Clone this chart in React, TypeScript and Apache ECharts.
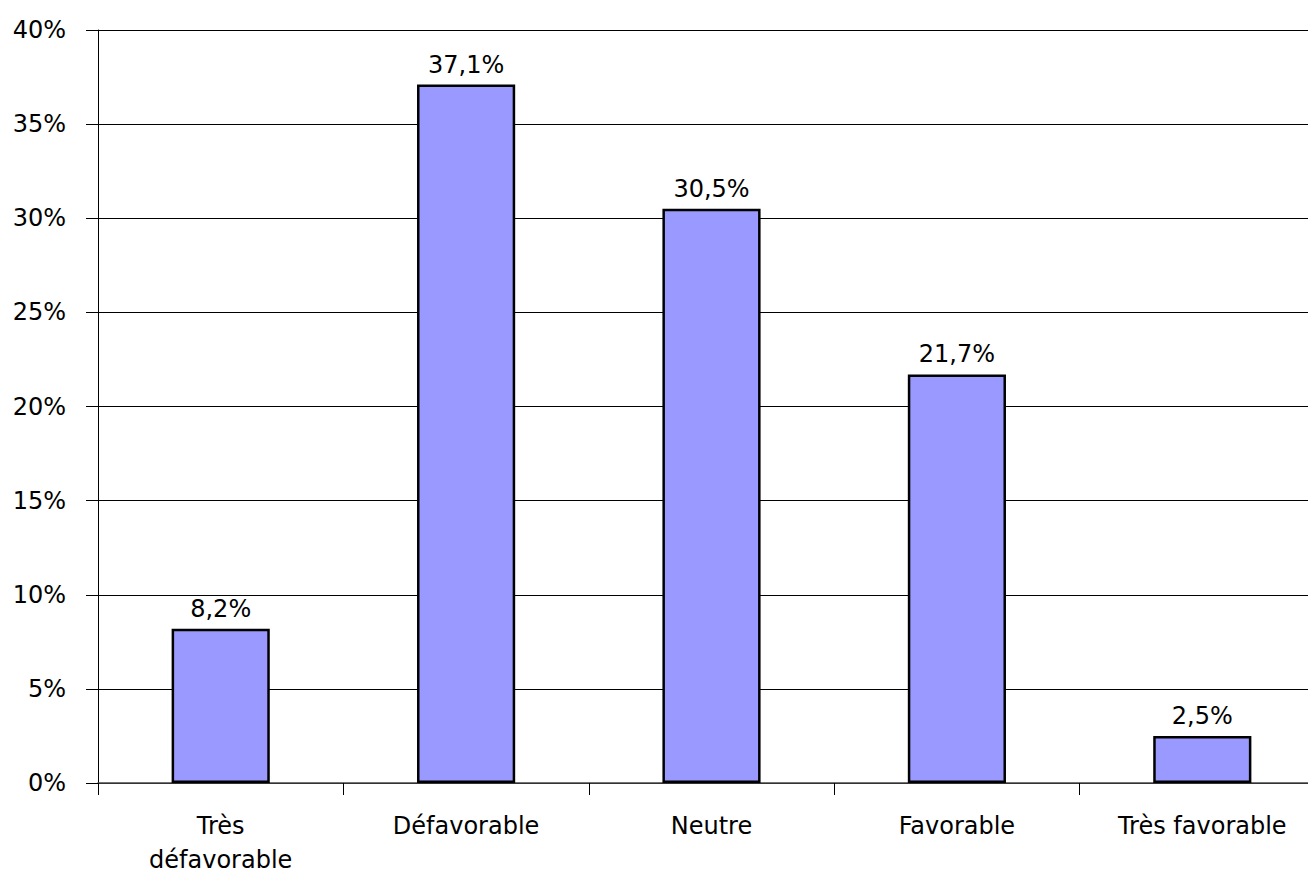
import React, { useEffect, useRef } from "react";
import * as echarts from "echarts";

const categories = ["Très\ndéfavorable", "Défavorable", "Neutre", "Favorable", "Très favorable"];
const values = [8.2, 37.1, 30.5, 21.7, 2.5];
const yTicks = { min: 0, max: 40, interval: 5 };

const FONT = "DejaVu Sans";

export default function App() {
  const ref = useRef<HTMLDivElement>(null);
  useEffect(() => {
    if (!ref.current) return;
    const chart = echarts.init(ref.current, undefined, { renderer: "svg" });
    chart.setOption({
      animation: false,
      backgroundColor: "#ffffff",
      grid: {
        left: 98,
        top: 30,
        width: 1227,
        height: 753,
        containLabel: false,
        outerBoundsMode: "none",
      },
      xAxis: {
        type: "category",
        data: categories,
        axisLine: { show: true, lineStyle: { color: "#444", width: 1.5 } },
        axisTick: { show: true, length: 12, lineStyle: { color: "#000" } },
        axisLabel: {
          color: "#000",
          fontFamily: FONT,
          fontSize: 24,
          lineHeight: 34,
          margin: 26,
          interval: 0,
        },
        splitLine: { show: false },
      },
      yAxis: {
        type: "value",
        min: yTicks.min,
        max: yTicks.max,
        interval: yTicks.interval,
        axisLine: { show: true, lineStyle: { color: "#000", width: 1 } },
        axisTick: { show: true, length: 12, lineStyle: { color: "#000" } },
        axisLabel: {
          color: "#000",
          fontFamily: FONT,
          fontSize: 24,
          margin: 32,
          formatter: "{value}%",
        },
        splitLine: { show: true, lineStyle: { color: "#000", width: 1 } },
      },
      series: [
        {
          type: "bar",
          data: values,
          barWidth: "40%",
          itemStyle: { color: "#9999FF", borderColor: "#000", borderWidth: 2.5 },
          label: {
            show: true,
            position: "top",
            distance: 8,
            color: "#000",
            fontFamily: FONT,
            fontSize: 24,
            formatter: (p: any) => p.value.toFixed(1).replace(".", ",") + "%",
          },
        },
      ],
    });
    return () => chart.dispose();
  }, []);
  return (
    <div
      ref={ref}
      style={{ position: "fixed", left: 0, top: 0, width: 1308, height: 879 }}
    />
  );
}
